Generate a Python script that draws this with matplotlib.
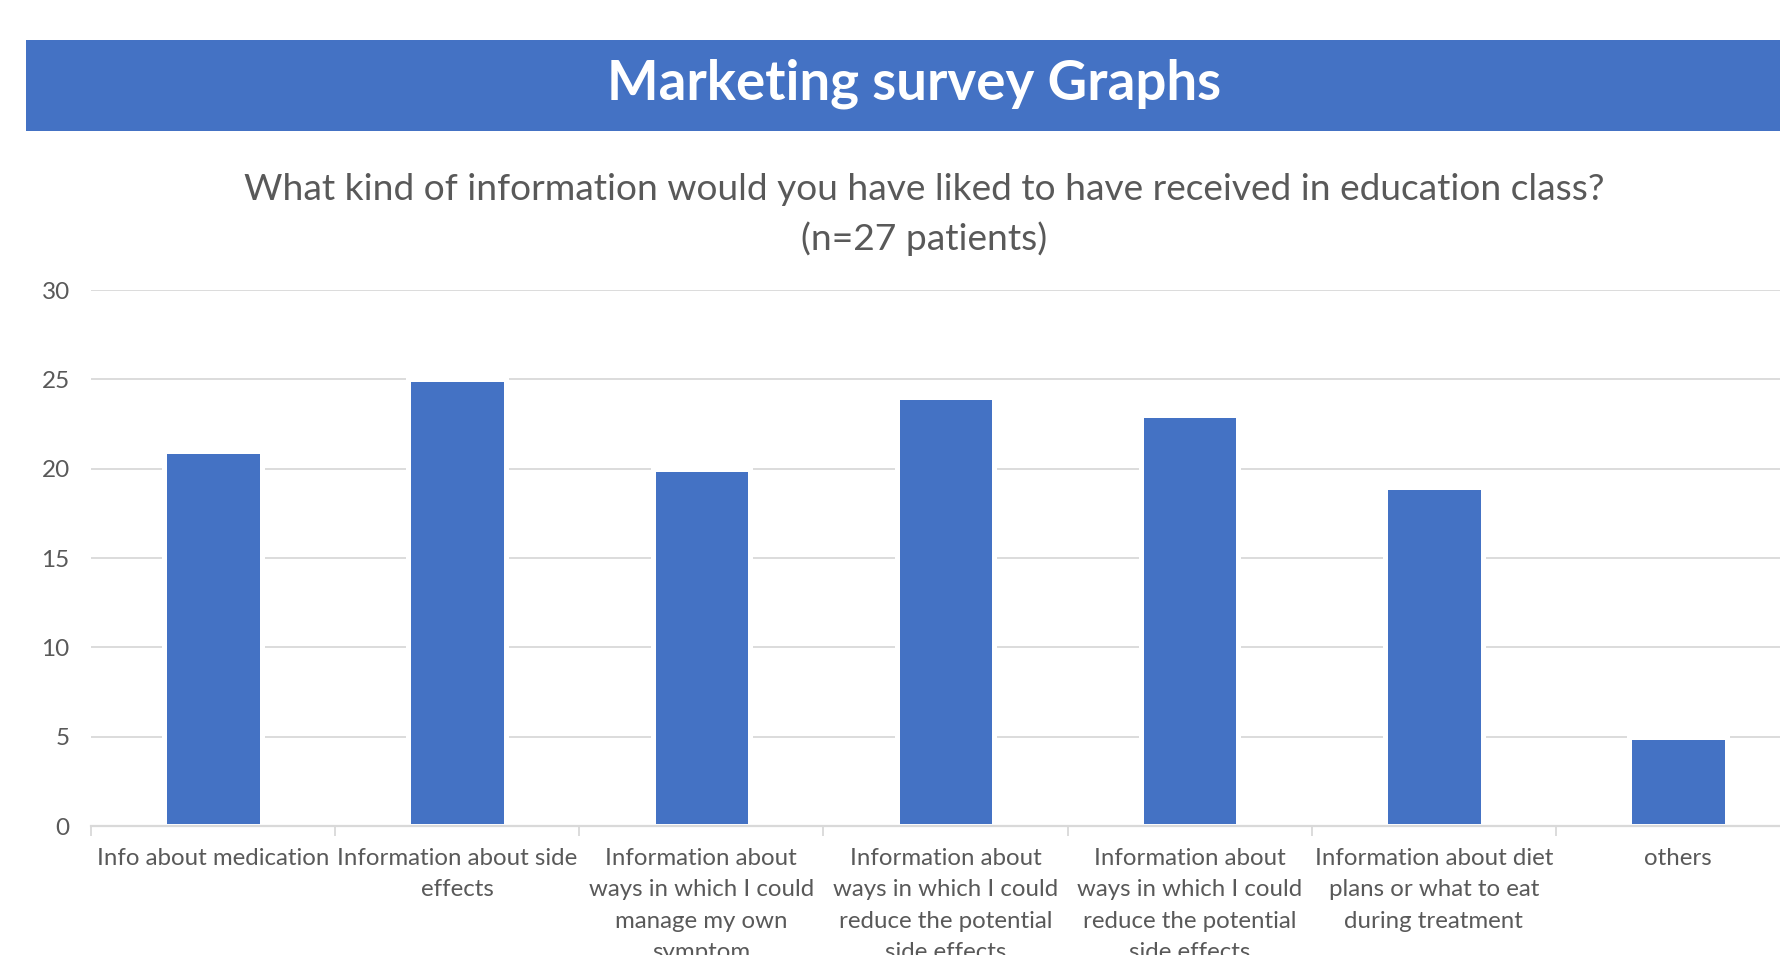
import numpy as np
import matplotlib
matplotlib.use("Agg")
import matplotlib.pyplot as plt
from matplotlib.patches import Rectangle

# survey answers (n=27)
categories = [
    "Info about medication",
    "Information about side\neffects",
    "Information about\nways in which I could\nmanage my own\nsymptom",
    "Information about\nways in which I could\nreduce the potential\nside effects",
    "Information about\nways in which I could\nreduce the potential\nside effects",
    "Information about diet\nplans or what to eat\nduring treatment",
    "others",
]
counts = [21, 25, 20, 24, 23, 19, 5]
y_ticks = [0, 5, 10, 15, 20, 25, 30]

banner_title = "Marketing survey Graphs"
chart_title = "What kind of information would you have liked to have received in education class?\n(n=27 patients)"

blue = "#4472C4"
grey_txt = "#595959"
grid_col = "#D9D9D9"

plt.rcParams['font.family'] = ['Lato', 'DejaVu Sans']

W, H = 1781, 955
fig = plt.figure(figsize=(W / 100, H / 100), dpi=100)

# banner across the top
fig.patches.append(Rectangle((26 / W, 1 - 131 / H), 1, 91 / H, transform=fig.transFigure,
                             facecolor=blue, edgecolor="none", zorder=0))
fig.text(914 / W, 1 - 84 / H, banner_title, ha="center", va="center",
         color="white", fontsize=39.3, fontweight="bold")

fig.text(924 / W, 1 - 214.5 / H, chart_title, ha="center", va="center",
         color=grey_txt, fontsize=26.7, linespacing=1.52, multialignment="center")

ax = fig.add_axes([91 / W, 1 - 826 / H, 1709 / W, 536 / H])
x = np.arange(len(categories))
ax.bar(x, counts, width=0.40, color=blue, edgecolor="white", linewidth=3.6, zorder=2)

ax.set_xlim(-0.5, len(categories) - 0.5)
ax.set_ylim(0, 30)
ax.set_yticks(y_ticks)
ax.set_axisbelow(True)
ax.yaxis.grid(True, color=grid_col, linewidth=1.3)

for s in ["top", "right", "left"]:
    ax.spines[s].set_visible(False)
ax.spines["bottom"].set_color(grid_col)
ax.spines["bottom"].set_linewidth(1.6)
ax.spines["bottom"].set_zorder(3)

# labels run past the bottom edge, as in the source screenshot
ax.set_xticks(x)
ax.set_xticklabels(categories, color=grey_txt, fontsize=17.3, linespacing=1.6)
ax.set_xticks(np.arange(-0.5, len(categories), 1), minor=True)
ax.tick_params(axis="x", which="major", length=0, pad=16)
ax.tick_params(axis="x", which="minor", length=7, color=grid_col, width=1.3)
ax.tick_params(axis="y", length=0, pad=15.3, labelcolor=grey_txt, labelsize=17.5)

fig.savefig("out.png", dpi=100)
